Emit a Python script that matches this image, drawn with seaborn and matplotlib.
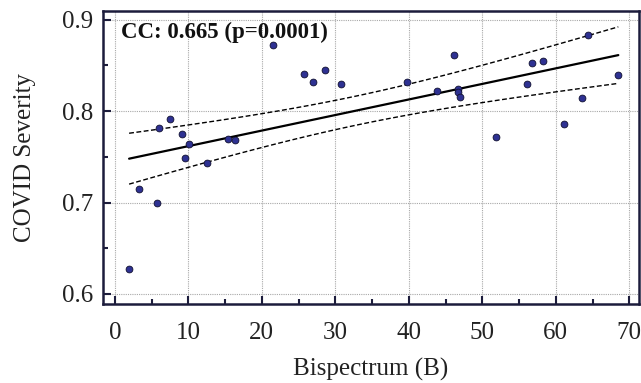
import numpy as np
import pandas as pd
import matplotlib
matplotlib.use("Agg")
import matplotlib.pyplot as plt
from matplotlib.ticker import MultipleLocator
import seaborn as sns

# ==============================
# Data
# ==============================
bispectrum = [1.95, 3.3, 5.7, 6.0, 7.5, 9.2, 9.6, 10.1, 12.5, 15.4,
              16.3, 21.5, 25.8, 27.0, 28.6, 30.8, 39.8, 43.9, 46.2, 46.7,
              46.7, 47.0, 51.9, 56.1, 56.8, 58.2, 61.1, 63.5, 64.4, 68.5]
severity = [0.627, 0.715, 0.700, 0.782, 0.791, 0.775, 0.749, 0.764, 0.743, 0.770,
            0.768, 0.872, 0.841, 0.832, 0.845, 0.830, 0.832, 0.822, 0.861, 0.824,
            0.821, 0.816, 0.772, 0.830, 0.853, 0.855, 0.786, 0.814, 0.883, 0.839]
cc_text = "CC: 0.665 (p=0.0001)"

df = pd.DataFrame({"B": bispectrum, "S": severity})

# ==============================
# Linear fit + 95% confidence band
# ==============================
x = df["B"].to_numpy()
y = df["S"].to_numpy()
n = len(x)
slope, intercept = np.polyfit(x, y, 1)
resid = y - (slope * x + intercept)
s_err = np.sqrt(np.sum(resid ** 2) / (n - 2))
t_val = 2.048  # t(0.975, df=28)
xs = np.linspace(x.min(), x.max(), 100)
ys = slope * xs + intercept
half = t_val * s_err * np.sqrt(1 / n + (xs - x.mean()) ** 2 / np.sum((x - x.mean()) ** 2))
fit = pd.DataFrame({"B": xs, "fit": ys, "lo": ys - half, "hi": ys + half})

# ==============================
# Plot
# ==============================
sns.set_theme(style="white")
plt.rcParams["font.family"] = ["Liberation Serif", "DejaVu Serif"]

fig = plt.figure(figsize=(6.41, 3.83), dpi=100)
ax = fig.add_axes([0.1607, 0.2063, 0.836, 0.766])

spine_col = "#1c1c3c"
ax.grid(True, which="major", color="#a8a8a8", linestyle=(0, (1, 1)), linewidth=0.8)
ax.set_axisbelow(True)

sns.lineplot(data=fit, x="B", y="fit", ax=ax, color="black", linewidth=1.6)
sns.lineplot(data=fit, x="B", y="hi", ax=ax, color="black", linewidth=1.0, linestyle=(0, (3.5, 1.8)))
sns.lineplot(data=fit, x="B", y="lo", ax=ax, color="black", linewidth=1.0, linestyle=(0, (3.5, 1.8)))
sns.scatterplot(data=df, x="B", y="S", ax=ax, color="#2e3192", edgecolor="#101030",
                linewidth=0.6, s=24, zorder=5)

ax.set_xlim(-1.6, 71.3)
ax.set_ylim(0.589, 0.910)
ax.xaxis.set_major_locator(MultipleLocator(10))
ax.xaxis.set_minor_locator(MultipleLocator(5))
ax.yaxis.set_major_locator(MultipleLocator(0.1))
ax.yaxis.set_minor_locator(MultipleLocator(0.05))
ax.tick_params(which="both", direction="in", color=spine_col, width=1.5,
               bottom=True, left=True, top=False, right=False, labelsize=18, labelcolor="#222222")
ax.tick_params(axis="x", which="major", length=5.5, pad=13)
ax.tick_params(axis="y", which="major", length=5.5, pad=7)
ax.tick_params(which="minor", length=3.6)

for sp in ax.spines.values():
    sp.set_color(spine_col)
    sp.set_linewidth(1.8)
    sp.set_visible(True)

ax.set_xlabel("Bispectrum (B)", fontsize=18, color="#222222", labelpad=10)
ax.set_ylabel("COVID Severity", fontsize=18, color="#222222", labelpad=19)

ax.text(0.034, 0.962, cc_text, transform=ax.transAxes, fontsize=16.5, fontweight="bold",
        va="top", ha="left", color="#111111")

fig.savefig("out.png", dpi=100)
